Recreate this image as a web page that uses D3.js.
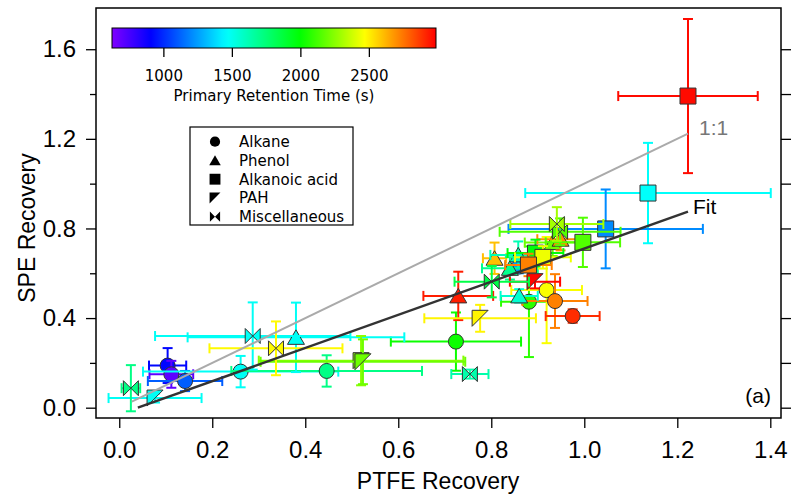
<!DOCTYPE html>
<html><head><meta charset="utf-8">
<script src="https://cdn.jsdelivr.net/npm/d3@7"></script>
<style>body{margin:0;background:#fff}svg{display:block}</style>
</head><body><svg id="c" width="792" height="497"></svg>
<script>
// rows: [PTFE recovery, SPE recovery, x error, y error, primary retention time (s)]
const alkane = [
  [0.104, 0.188, 0.040, 0.078, 920],
  [0.112, 0.149, 0.047, 0.060, 700],
  [0.1415, 0.119, 0.080, 0.045, 1110],
  [0.261, 0.161, 0.210, 0.070, 1480],
  [0.446, 0.164, 0.205, 0.070, 1720],
  [0.724, 0.295, 0.140, 0.130, 2020],
  [0.860, 0.630, 0.030, 0.030, 1250],
  [0.881, 0.473, 0.060, 0.247, 2080],
  [0.919, 0.525, 0.076, 0.237, 2460],
  [0.937, 0.476, 0.070, 0.120, 2730],
  [0.975, 0.409, 0.058, 0.030, 2900]
];
const phenol = [
  [0.380, 0.314, 0.233, 0.155, 1480],
  [0.729, 0.499, 0.075, 0.108, 2930],
  [0.807, 0.667, 0.025, 0.070, 2600],
  [0.860, 0.499, 0.040, 0.030, 1560],
  [0.858, 0.682, 0.060, 0.060, 1620],
  [0.840, 0.622, 0.060, 0.050, 1700],
  [0.932, 0.737, 0.060, 0.060, 2200],
  [0.949, 0.752, 0.050, 0.050, 2700]
];
const acid = [
  [1.223, 1.391, 0.150, 0.344, 2970],
  [1.137, 0.958, 0.264, 0.224, 1470],
  [1.046, 0.798, 0.209, 0.176, 1210],
  [0.997, 0.738, 0.080, 0.110, 2150],
  [0.895, 0.690, 0.060, 0.060, 1980],
  [0.911, 0.671, 0.060, 0.050, 2440],
  [0.880, 0.637, 0.050, 0.050, 2730]
];
const pah = [
  [0.077, 0.043, 0.100, 0.020, 1480],
  [0.520, 0.210, 0.220, 0.110, 2250],
  [0.524, 0.205, 0.220, 0.100, 2200],
  [0.776, 0.399, 0.120, 0.060, 2490],
  [0.894, 0.5625, 0.054, 0.030, 2980]
];
const misc = [
  [0.025, 0.087, 0.020, 0.103, 1720],
  [0.287, 0.320, 0.210, 0.150, 1480],
  [0.337, 0.265, 0.143, 0.120, 2480],
  [0.754, 0.150, 0.040, 0.020, 1640],
  [0.801, 0.5625, 0.080, 0.070, 1850],
  [0.948, 0.785, 0.130, 0.060, 2150],
  [0.941, 0.820, 0.100, 0.075, 2300]
];
const fitX = [0.04, 1.223];
const fitSlope = 0.74, fitIntercept = -0.0296;
const oneX = [0.027, 1.223];
const xTicks = [0, 0.2, 0.4, 0.6, 0.8, 1.0, 1.2, 1.4];
const yTicks = [0, 0.4, 0.8, 1.2, 1.6];
const yMinor = [0.2, 0.6, 1.0, 1.4];
const cbTicks = [1000, 1500, 2000, 2500];
const rtRange = [625, 2990];
const cmapStops = [625, 909, 1462, 2000, 2470, 2990];
const cmapColors = ["#8000ff", "#0000ff", "#00ffff", "#00ff00", "#ffff00", "#ff0000"];
const legendNames = ["Alkane", "Phenol", "Alkanoic acid", "PAH", "Miscellaneous"];

const svg = d3.select("#c");
const x = d3.scaleLinear().domain([-0.05, 1.423]).range([96, 781]);
const y = d3.scaleLinear().domain([-0.046, 1.784]).range([418, 8]);
const color = d3.scaleLinear().domain(cmapStops).range(cmapColors).clamp(true);
const numFont = "'Liberation Sans', Arial, sans-serif";
const smallFont = "'DejaVu Sans', sans-serif";

// marker shapes
const shapes = {
  circle: "M7.5,0A7.5,7.5 0 1,1 -7.5,0A7.5,7.5 0 1,1 7.5,0Z",
  triangle: "M0,-7.5L8.5,7L-8.5,7Z",
  square: "M-8,-8H8V8H-8Z",
  pah: "M-8,-8L8,-8L-8,8Z",
  bowtie: "M-7.5,-7.5L0,0L-7.5,7.5ZM7.5,-7.5L0,0L7.5,7.5Z"
};
const series = [
  {data: alkane, shape: "circle"},
  {data: phenol, shape: "triangle"},
  {data: acid, shape: "square"},
  {data: pah, shape: "pah"},
  {data: misc, shape: "bowtie"}
];

// points with error bars
const plot = svg.append("g");
series.forEach(s => {
  s.data.forEach(d => {
    const [vx, vy, ex, ey, rt] = d;
    const c = color(rt);
    const g = plot.append("g").attr("stroke", c).attr("stroke-width", 2).attr("fill", "none");
    const cx = x(vx), cy = y(vy);
    const x0 = x(vx - ex), x1 = x(vx + ex), y0 = y(vy - ey), y1 = y(vy + ey);
    g.append("line").attr("x1", x0).attr("x2", x1).attr("y1", cy).attr("y2", cy);
    g.append("line").attr("x1", x0).attr("x2", x0).attr("y1", cy - 5).attr("y2", cy + 5);
    g.append("line").attr("x1", x1).attr("x2", x1).attr("y1", cy - 5).attr("y2", cy + 5);
    g.append("line").attr("x1", cx).attr("x2", cx).attr("y1", y0).attr("y2", y1);
    g.append("line").attr("x1", cx - 5).attr("x2", cx + 5).attr("y1", y0).attr("y2", y0);
    g.append("line").attr("x1", cx - 5).attr("x2", cx + 5).attr("y1", y1).attr("y2", y1);
    plot.append("path").attr("d", shapes[s.shape])
      .attr("transform", `translate(${cx},${cy})`)
      .attr("fill", c).attr("stroke", "#333").attr("stroke-width", 1);
  });
});

// 1:1 and fit lines
svg.append("line").attr("x1", x(oneX[0])).attr("y1", y(oneX[0]))
  .attr("x2", x(oneX[1])).attr("y2", y(oneX[1]))
  .attr("stroke", "#aaaaaa").attr("stroke-width", 2);
svg.append("line").attr("x1", x(fitX[0])).attr("y1", y(fitSlope * fitX[0] + fitIntercept))
  .attr("x2", x(fitX[1])).attr("y2", y(fitSlope * fitX[1] + fitIntercept))
  .attr("stroke", "#333333").attr("stroke-width", 2.5);
svg.append("text").attr("x", 699).attr("y", 135).attr("fill", "#777")
  .attr("font-family", numFont).attr("font-size", 21).text("1:1");
svg.append("text").attr("x", 693).attr("y", 214).attr("fill", "#000")
  .attr("font-family", numFont).attr("font-size", 21).text("Fit");
svg.append("text").attr("x", 771).attr("y", 403).attr("text-anchor", "end")
  .attr("font-family", numFont).attr("font-size", 21).text("(a)");

// frame
svg.append("rect").attr("x", 96).attr("y", 8).attr("width", 685).attr("height", 410)
  .attr("fill", "none").attr("stroke", "#000").attr("stroke-width", 1.5);

// axes
const xAxis = svg.append("g").attr("transform", "translate(0,418)")
  .call(d3.axisBottom(x).tickValues(xTicks).tickFormat(d3.format(".1f")).tickSize(10).tickPadding(13));
const yAxis = svg.append("g").attr("transform", "translate(96,0)")
  .call(d3.axisLeft(y).tickValues(yTicks).tickFormat(d3.format(".1f")).tickSize(10).tickPadding(10));
const yMinorAxis = svg.append("g").attr("transform", "translate(96,0)")
  .call(d3.axisLeft(y).tickValues(yMinor).tickFormat("").tickSize(6));
const yRight = svg.append("g").attr("transform", "translate(781,0)")
  .call(d3.axisRight(y).tickValues(yTicks.concat(yMinor)).tickFormat("").tickSize(10));
[xAxis, yAxis, yMinorAxis, yRight].forEach(a => {
  a.select(".domain").remove();
  a.selectAll("line").attr("stroke", "#000").attr("stroke-width", 1.3);
  a.selectAll("text").attr("font-family", numFont).attr("font-size", 24).attr("fill", "#000");
});

svg.append("text").attr("x", 438).attr("y", 489).attr("text-anchor", "middle")
  .attr("font-family", numFont).attr("font-size", 23).text("PTFE Recovery");
svg.append("text").attr("transform", "translate(35,228) rotate(-90)").attr("text-anchor", "middle")
  .attr("font-family", numFont).attr("font-size", 23).text("SPE Recovery");

// colour bar
const cb = d3.scaleLinear().domain(rtRange).range([112, 436]);
const grad = svg.append("defs").append("linearGradient").attr("id", "cbg")
  .attr("x1", "0%").attr("x2", "100%").attr("y1", "0%").attr("y2", "0%");
d3.range(0, 1.0001, 0.02).forEach(f => {
  grad.append("stop").attr("offset", (f * 100) + "%")
    .attr("stop-color", color(rtRange[0] + f * (rtRange[1] - rtRange[0])));
});
svg.append("rect").attr("x", 112).attr("y", 28).attr("width", 324).attr("height", 20)
  .attr("fill", "url(#cbg)").attr("stroke", "#000").attr("stroke-width", 1);
const cbAxis = svg.append("g").attr("transform", "translate(0,48)")
  .call(d3.axisBottom(cb).tickValues(cbTicks).tickFormat(d3.format("d")).tickSize(9).tickPadding(13));
cbAxis.select(".domain").remove();
cbAxis.selectAll("line").attr("stroke", "#000").attr("stroke-width", 1.3);
cbAxis.selectAll("text").attr("font-family", smallFont).attr("font-size", 15).attr("fill", "#000");
svg.append("text").attr("x", 274).attr("y", 101).attr("text-anchor", "middle")
  .attr("font-family", smallFont).attr("font-size", 15).text("Primary Retention Time (s)");

// legend
const lg = svg.append("g");
lg.append("rect").attr("x", 190).attr("y", 127).attr("width", 163).attr("height", 98)
  .attr("fill", "#fff").attr("stroke", "#000").attr("stroke-width", 1.2);
const shapeKeys = ["circle", "triangle", "square", "pah", "bowtie"];
legendNames.forEach((n, i) => {
  const ly = 141.7 + i * 18.75;
  lg.append("path").attr("d", shapes[shapeKeys[i]])
    .attr("transform", `translate(215,${ly}) scale(0.68)`).attr("fill", "#000");
  lg.append("text").attr("x", 239).attr("y", ly + 5.5)
    .attr("font-family", smallFont).attr("font-size", 15).text(n);
});
</script></body></html>
